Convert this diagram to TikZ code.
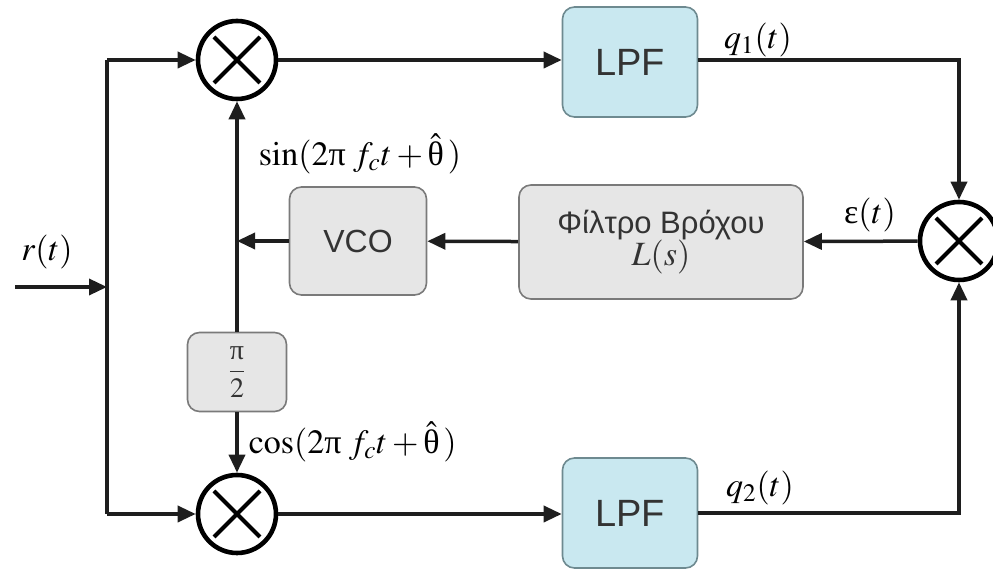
\documentclass[tikz,border=0pt]{standalone}
\usepackage{mathptmx}
\usepackage{fontspec}
\setmainfont{Liberation Serif}
\newfontfamily\boxfont{Liberation Sans}
\usetikzlibrary{arrows.meta,calc}
\definecolor{lineclr}{HTML}{1E1E1E}
\definecolor{lpffill}{HTML}{C9E8F0}
\definecolor{lpfdraw}{HTML}{6E8A90}
\definecolor{grayfill}{HTML}{E6E6E6}
\definecolor{graydraw}{HTML}{7A7A7A}
\definecolor{boxtext}{HTML}{333333}
\newcommand{\gpi}{\mbox{π}}
\newcommand{\gth}{\mbox{θ}}
\tikzset{
  mult/.style={circle,draw=black,line width=2.3pt,minimum size=39pt,inner sep=0pt},
  lpfbox/.style={rectangle,rounded corners=6pt,draw=lpfdraw,fill=lpffill,line width=0.8pt,
     minimum width=67.5pt,minimum height=55pt,font=\boxfont\fontsize{19}{22}\selectfont,text=boxtext},
  graybox/.style={rectangle,rounded corners=6pt,draw=graydraw,fill=grayfill,line width=0.8pt,text=boxtext},
  arr/.style={-{Triangle[length=9pt,width=8pt]}},
  lbl/.style={font=\fontsize{17}{20}\selectfont,inner sep=0pt}
}
\begin{document}
\begin{tikzpicture}[x=0.5pt,y=-0.5pt,line width=1.75pt,draw=lineclr]
\useasboundingbox (0,0) rectangle (993,571);
% nodes
\node[mult] (m1) at (237,60) {};
\node[mult] (m2) at (237,514) {};
\node[mult] (m3) at (959,241) {};
\foreach \m in {m1,m2,m3}{
  \draw[line width=2pt,black] ($(\m)+(-23,-23)$) -- ($(\m)+(23,23)$);
  \draw[line width=2pt,black] ($(\m)+(-23,23)$) -- ($(\m)+(23,-23)$);
}
\node[lpfbox] (lpf1) at (630,62) {LPF};
\node[lpfbox] (lpf2) at (630,513) {LPF};
\node[graybox,minimum width=68.5pt,minimum height=54pt,font=\boxfont\fontsize{16}{19}\selectfont] (vco) at (358,241) {VCO};
\node[graybox,minimum width=142pt,minimum height=57pt,align=center,font=\boxfont\fontsize{15.5}{18}\selectfont] (lf) at (661,242) {Φίλτρο Βρόχου\\[-2pt]{\rmfamily\fontsize{17}{20}\selectfont$L(s)$}};
\node[graybox,minimum width=49.5pt,minimum height=39.5pt,font=\fontsize{14}{16}\selectfont] (ph) at (237,372) {$\displaystyle\frac{\gpi}{2}$};
% coordinates
\coordinate (in) at (15,287);
\coordinate (jl) at (107,287);
\coordinate (tl) at (107,60);
\coordinate (bl) at (107,514);
\coordinate (jv) at (237,241);
% connectors
\draw[arr] (in) -- (jl);
\draw (tl) -- (bl);
\draw[arr] (tl) -- (m1);
\draw[arr] (bl) -- (m2);
\draw[arr] (m1) -- (m1 -| lpf1.west);
\draw[arr] (m2) -- (m2 -| lpf2.west);
\draw[arr] (m1 -| lpf1.east) -| (m3.north);
\draw[arr] (lpf2.east) -| (m3.south);
\draw[arr] (m3) -- (lf);
\draw[arr] (lf) -- (vco);
\draw[arr] (vco) -- (jv);
\draw[arr] (ph.north) -- (m1.south);
\draw[arr] (ph.south) -- (m2.north);
% labels
\node[lbl] (lr) at (47,252) {$r(t)$};
\node[lbl,anchor=west] (ls) at (257,154) {$\sin(2\gpi\; f_c t+\hat{\gth}\,)$};
\node[lbl,anchor=west] (lc) at (247,442) {$\cos(2\gpi\; f_c t+\hat{\gth}\,)$};
\node[lbl] (lq1) at (758,40) {$q_1(t)$};
\node[lbl] (lq2) at (760,488) {$q_2(t)$};
\node[lbl] (le) at (870,215) {$\mbox{ε}(t)$};
\end{tikzpicture}
\end{document}
